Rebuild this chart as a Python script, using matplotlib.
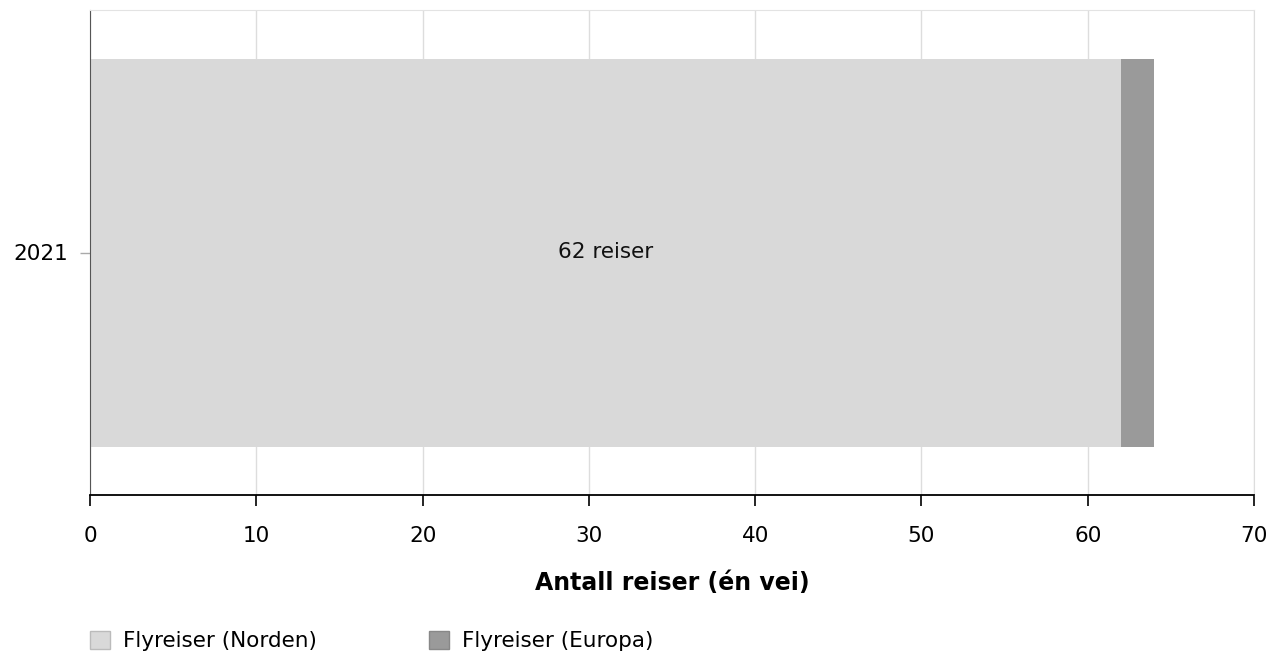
import matplotlib.pyplot as plt
from matplotlib.patches import Patch

# ----------------data----------------
categories = ['2021']
norden = [62]
europa = [2]
series_names = ['Flyreiser (Norden)', 'Flyreiser (Europa)']
series_colors = ['#d9d9d9', '#9a9a9a']
x_ticks = [0, 10, 20, 30, 40, 50, 60, 70]

plt.rcParams['font.family'] = ['DejaVu Sans']
fs = 15.5

fig = plt.figure(figsize=(12.82, 6.63), dpi=100)
ax = fig.add_axes([90 / 1282, 168 / 663, 1164 / 1282, 485 / 663])

ax.barh(categories, norden, height=0.8, color=series_colors[0], zorder=1)
ax.barh(categories, europa, left=norden, height=0.8, color=series_colors[1], zorder=2)

for cat, val in zip(categories, norden):
    ax.text(val / 2, cat, f'{val} reiser', ha='center', va='center', fontsize=fs, color='#111111', zorder=3)

ax.set_xlim(x_ticks[0], x_ticks[-1])
ax.set_ylim(-0.5, 0.5)
ax.set_xticks(x_ticks)
ax.grid(axis='x', color='#dddddd', linewidth=1, zorder=0)
ax.set_axisbelow(True)

ax.spines['top'].set_color('#e3e3e3')
ax.spines['right'].set_color('#dddddd')
ax.spines['left'].set_color('#555555')
ax.spines['bottom'].set_color('#000000')
ax.spines['bottom'].set_linewidth(1.3)

ax.tick_params(axis='x', length=8, width=1.2, color='#000000', labelsize=fs, pad=14)
ax.tick_params(axis='y', length=7, width=1, color='#aaaaaa', labelsize=fs, pad=9)

ax.set_xlabel('Antall reiser (én vei)', fontsize=17, fontweight='bold', labelpad=18)

handles = [Patch(facecolor=c, edgecolor='#bbbbbb' if i == 0 else '#888888', linewidth=1)
           for i, c in enumerate(series_colors)]
fig.legend(handles, series_names, loc='center left', bbox_to_anchor=(71 / 1282, 22 / 663),
           ncol=2, frameon=False, fontsize=fs, handlelength=0.93, handleheight=0.93,
           handletextpad=0.6, columnspacing=5.2)

fig.savefig('out.png', dpi=100)
